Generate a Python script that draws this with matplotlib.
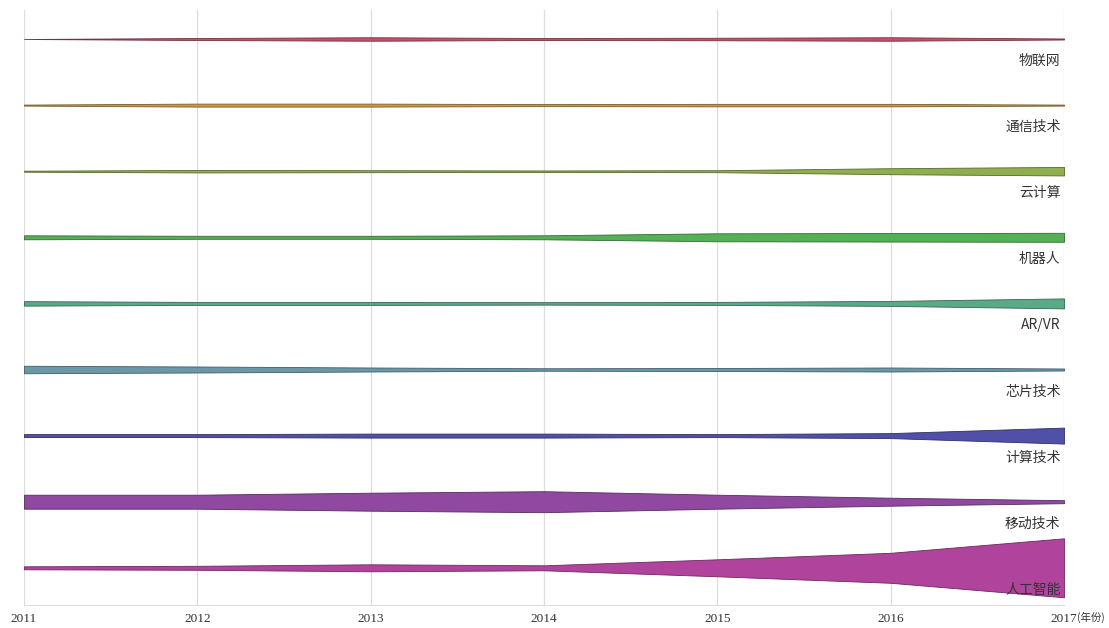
import numpy as np
import matplotlib.pyplot as plt
from matplotlib.colors import to_rgb

plt.rcParams["font.family"] = ["Noto Sans CJK SC", "DejaVu Sans"]

years = [2011, 2012, 2013, 2014, 2015, 2016, 2017]
tick_labels = ["2011", "2012", "2013", "2014", "2015", "2016", "2017"]
x_unit = "(年份)"

topics = ["物联网", "通信技术", "云计算", "机器人", "AR/VR",
          "芯片技术", "计算技术", "移动技术", "人工智能"]

# band thickness per year
iot = [0.0, 2.0, 3.5, 2.0, 2.5, 3.5, 1.0]
comm = [1.0, 3.0, 3.0, 2.0, 2.5, 2.5, 1.0]
cloud = [1.0, 2.5, 2.0, 1.5, 2.0, 6.0, 8.5]
robot = [4.0, 3.0, 3.0, 4.0, 8.0, 8.5, 9.0]
arvr = [4.5, 3.0, 3.0, 2.5, 3.0, 5.0, 10.0]
chip = [7.5, 6.0, 4.0, 2.5, 3.0, 4.0, 2.0]
compute = [3.0, 3.0, 4.0, 4.0, 3.0, 5.0, 16.0]
mobile = [14.0, 14.0, 18.0, 21.0, 14.0, 8.0, 3.0]
ai = [3.0, 4.0, 7.0, 5.0, 17.0, 30.0, 59.0]

series = [iot, comm, cloud, robot, arvr, chip, compute, mobile, ai]
colors = ["#c4506a", "#c89a44", "#8fae4e", "#55b055", "#5aaa88",
          "#6a98a8", "#5050a8", "#9048a0", "#b0449c"]

fig = plt.figure(figsize=(11.09, 6.28), dpi=100)
ax = fig.add_axes([24 / 1109, 23 / 628, 1040 / 1109, 595 / 628])

n = len(topics)
gap = 66.1
centers = 566 - gap * np.arange(n)

for vals, name, col, yc in zip(series, topics, colors, centers):
    half = np.array(vals) / 2.0
    edge = tuple(c * 0.6 for c in to_rgb(col))
    ax.fill_between(years, yc - half, yc + half, facecolor=col,
                    edgecolor=edge, linewidth=0.6, zorder=3)
    ax.text(2016.98, yc - 22, name, ha="right", va="center",
            fontsize=10, color="#333333", zorder=4)

ax.set_xlim(2011, 2017)
ax.set_ylim(0, 595)
ax.set_xticks(years)
ax.set_xticklabels(tick_labels, family=["Liberation Serif", "DejaVu Serif"],
                   fontsize=9.5, color="#333333")
ax.tick_params(axis="x", length=0, pad=6)
ax.set_yticks([])
ax.grid(axis="x", color="#dddddd", linewidth=0.9)
ax.set_axisbelow(True)
for s in ["top", "left", "right"]:
    ax.spines[s].set_visible(False)
ax.spines["bottom"].set_color("#dddddd")

ax.annotate(x_unit, xy=(2017, 0), xytext=(9.5, -5), textcoords="offset points",
            ha="left", va="top", fontsize=7.5, color="#333333",
            annotation_clip=False)

fig.savefig("out.png", dpi=100)
